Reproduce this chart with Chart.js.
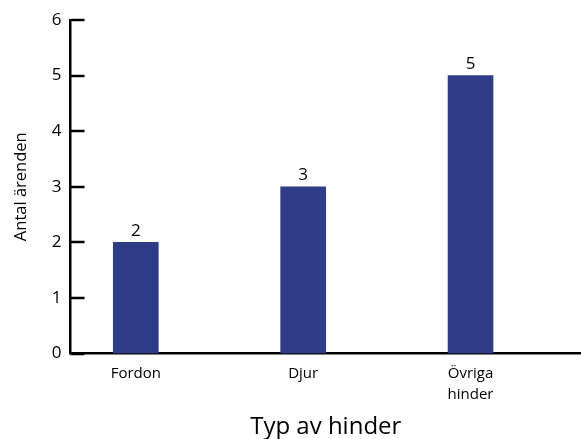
<!DOCTYPE html>
<html>
<head>
<meta charset="utf-8">
<script src="https://cdn.jsdelivr.net/npm/chart.js@4/dist/chart.umd.min.js"></script>
<style>
  html, body { margin: 0; padding: 0; background: #fff; }
  #wrap { width: 581px; height: 439px; }
</style>
</head>
<body>
<div id="wrap"><canvas id="barChart"></canvas></div>
<script>
    // Data
    const categories = [['Fordon'], ['Djur'], ['Övriga', 'hinder']];
    const counts = [2, 3, 5];
    const yTicks = [0, 1, 2, 3, 4, 5, 6];

    const fontFamily = '"Open Sans", "DejaVu Sans", sans-serif';
    const barColor = '#2f3d88';

    // labels above bars + inward tick marks on the y axis
    const extras = {
        id: 'extras',
        afterDatasetsDraw(chart) {
            const ctx = chart.ctx;
            ctx.save();
            ctx.fillStyle = '#000';
            ctx.font = '17px ' + fontFamily;
            ctx.textAlign = 'center';
            ctx.textBaseline = 'bottom';
            chart.getDatasetMeta(0).data.forEach((bar, i) => {
                ctx.fillText(String(counts[i]), bar.x, bar.y - 3);
            });
            const y = chart.scales.y;
            const x0 = chart.chartArea.left;
            ctx.strokeStyle = '#000';
            ctx.lineWidth = 2.5;
            yTicks.forEach(v => {
                const py = Math.round(y.getPixelForValue(v));
                ctx.beginPath();
                ctx.moveTo(x0, py);
                ctx.lineTo(x0 + 14, py);
                ctx.stroke();
            });
            ctx.restore();
        }
    };

    const barChartCtx = document.getElementById('barChart').getContext('2d');
    new Chart(barChartCtx, {
        type: 'bar',
        data: {
            datasets: [{
                data: counts.map((c, i) => ({ x: i, y: c })),
                backgroundColor: barColor,
                borderWidth: 0,
                barThickness: 45
            }]
        },
        options: {
            responsive: true,
            maintainAspectRatio: false,
            animation: false,
            layout: { padding: { top: 20, right: 0, left: 11, bottom: 0 } },
            plugins: {
                legend: { display: false },
                tooltip: { enabled: false }
            },
            scales: {
                x: {
                    type: 'linear',
                    offset: false,
                    min: -0.39,
                    max: 2.66,
                    grid: { display: false, drawTicks: false },
                    border: { display: true, color: '#000', width: 2.5 },
                    ticks: {
                        stepSize: 1,
                        includeBounds: false,
                        padding: 9,
                        color: '#000',
                        font: { family: fontFamily, size: 15, lineHeight: 1.45 },
                        callback: v => categories[v] || ''
                    },
                    title: {
                        display: true,
                        text: 'Typ av hinder',
                        color: '#000',
                        font: { family: fontFamily, size: 24, lineHeight: 1.0 },
                        padding: { top: 0, bottom: 0 }
                    }
                },
                y: {
                    min: 0,
                    max: 6,
                    grid: { display: false, drawTicks: false },
                    border: { display: true, color: '#000', width: 2.5 },
                    ticks: {
                        stepSize: 1,
                        padding: 9,
                        color: '#000',
                        font: { family: fontFamily, size: 17 }
                    },
                    title: {
                        display: true,
                        text: 'Antal ärenden',
                        color: '#000',
                        font: { family: fontFamily, size: 16.5 },
                        padding: { top: 0, bottom: 12 }
                    }
                }
            }
        },
        plugins: [extras]
    });
</script>
</body>
</html>
